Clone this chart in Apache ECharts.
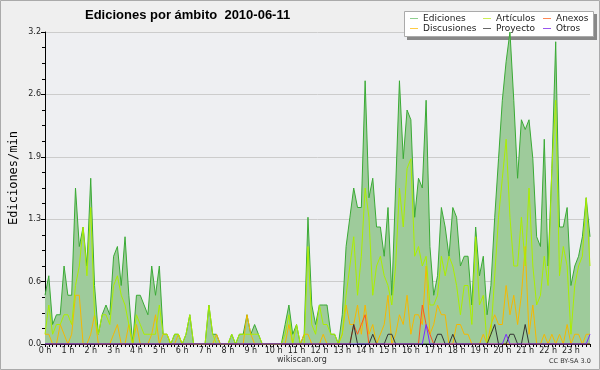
<!DOCTYPE html>
<html><head><meta charset="utf-8">
<script src="https://cdn.jsdelivr.net/npm/echarts@6/dist/echarts.min.js"></script>
<style>html,body{margin:0;padding:0;background:#efefef}#c{width:600px;height:370px}</style>
</head><body><div id="c"></div>
<script>
var hourLabels = ['0 h','1 h','2 h','3 h','4 h','5 h','6 h','7 h','8 h','9 h','10 h','11 h','12 h','13 h','14 h','15 h','16 h','17 h','18 h','19 h','20 h','21 h','22 h','23 h'];
var ediciones = [0.5,0.7,0.2,0.3,0.3,0.8,0.5,0.5,1.6,1.0,1.2,0.8,1.7,0.6,0.1,0.3,0.4,0.3,0.9,1.0,0.6,1.1,0.5,0.0,
0.5,0.5,0.4,0.3,0.8,0.5,0.8,0.1,0.1,0.0,0.1,0.1,0.0,0.1,0.3,0.0,0.0,0.0,0.0,0.4,0.1,0.1,0.0,0.0,
0.0,0.1,0.0,0.1,0.1,0.3,0.1,0.2,0.1,0.0,0.0,0.0,0.0,0.0,0.0,0.2,0.4,0.1,0.2,0.0,0.1,1.3,0.4,0.2,
0.4,0.4,0.4,0.1,0.1,0.0,0.3,1.0,1.3,1.6,1.4,1.4,2.7,1.5,1.7,1.2,1.2,0.9,1.4,0.5,1.6,2.7,1.9,2.4,
2.3,1.3,1.7,1.6,2.5,1.0,0.5,0.7,1.4,1.2,0.9,1.4,1.3,0.8,0.9,0.9,0.4,1.2,0.7,0.9,0.3,0.6,1.3,1.9,
2.5,2.9,3.2,2.5,1.7,2.3,2.2,2.3,1.9,1.1,1.0,2.1,0.8,1.8,3.1,1.2,1.2,1.4,0.6,0.8,0.9,1.1,1.5,1.1];
var articulos = [0.1,0.4,0.1,0.2,0.2,0.3,0.3,0.2,0.6,0.8,1.2,0.7,1.4,0.3,0.1,0.3,0.3,0.2,0.6,0.7,0.5,0.4,0.2,0.0,
0.3,0.2,0.1,0.1,0.1,0.1,0.4,0.1,0.1,0.0,0.1,0.1,0.0,0.1,0.3,0.0,0.0,0.0,0.0,0.4,0.1,0.0,0.0,0.0,
0.0,0.1,0.0,0.1,0.1,0.1,0.1,0.1,0.1,0.0,0.0,0.0,0.0,0.0,0.0,0.1,0.3,0.0,0.2,0.0,0.0,1.0,0.2,0.1,
0.4,0.2,0.2,0.1,0.1,0.0,0.1,0.5,0.8,1.1,0.5,0.9,1.6,1.3,0.5,0.8,0.9,0.7,0.6,0.4,0.8,1.6,1.2,1.8,
1.9,0.9,1.0,0.8,0.9,0.4,0.4,0.5,0.9,0.7,0.9,0.8,0.6,0.3,0.6,0.6,0.2,1.1,0.4,0.5,0.0,0.1,0.7,1.3,
1.7,2.1,1.3,0.8,0.8,1.3,0.8,1.6,0.8,0.4,0.5,0.9,0.6,1.8,2.5,0.7,1.0,0.8,0.1,0.6,0.8,0.9,1.5,0.8];
var discusiones = [0.1,0.1,0,0,0.2,0.1,0,0.1,0.5,0.5,0,0,0.1,0.3,0,0,0,0,0.1,0.2,0,0,0.2,0,
0.2,0,0,0,0.1,0.3,0,0.1,0.1,0,0,0.1,0,0,0,0,0,0,0,0,0,0.1,0,0,
0,0,0,0,0,0.3,0.1,0,0,0,0,0,0,0,0,0,0.2,0,0,0,0.1,0.1,0,0,
0,0.1,0,0,0,0,0.1,0.4,0.2,0.2,0.4,0.1,0.4,0.1,0.2,0,0.1,0.2,0.5,0,0.1,0.3,0.2,0.5,
0.1,0.3,0.3,0.2,0.8,0.1,0.2,0.4,0.3,0.3,0,0,0.2,0.2,0.1,0.1,0,0,0,0.1,0,0.2,0.3,0.2,
0.2,0.6,0.3,0.5,0.2,0.5,1.0,0.1,0.4,0,0,0.1,0,0.1,0,0.1,0,0.2,0,0.1,0.1,0,0.1,0.1];
var anexos = [0,0,0,0,0,0,0,0,0,0,0,0,0,0,0,0,0,0,0,0,0,0,0,0,
0,0,0,0,0,0,0,0,0,0,0,0,0,0,0,0,0,0,0,0,0,0,0,0,
0,0,0,0,0,0,0,0,0,0,0,0,0,0,0,0,0,0,0,0,0,0,0,0,
0,0,0,0,0,0,0,0,0,0.2,0.1,0.2,0.3,0,0,0,0,0,0,0,0,0,0,0,
0,0,0,0.4,0.2,0.1,0,0,0,0,0,0,0,0,0,0,0,0,0,0,0,0,0,0,
0,0,0,0,0,0,0,0,0,0,0,0,0,0,0,0,0,0,0,0,0,0,0,0];
var proyecto = [0,0,0,0,0,0,0,0,0,0,0,0,0,0,0,0,0,0,0,0,0,0,0,0,
0,0,0,0,0,0,0,0,0,0,0,0,0,0,0,0,0,0,0,0,0,0,0,0,
0,0,0,0,0,0,0,0,0,0,0,0,0,0,0,0,0,0,0,0,0,0,0,0,
0,0,0,0,0,0,0,0,0,0.2,0,0,0,0,0.1,0,0,0,0.1,0.1,0,0,0,0,
0,0,0,0,0,0,0,0.1,0.1,0,0,0.1,0,0,0,0,0,0,0,0,0,0.1,0.2,0,
0,0,0.1,0.1,0,0,0.2,0,0,0,0,0,0,0,0,0,0,0,0,0,0,0,0,0];
var otros = [0,0,0,0,0,0,0,0,0,0,0,0,0,0,0,0,0,0,0,0,0,0,0,0,
0,0,0,0,0,0,0,0,0,0,0,0,0,0,0,0,0,0,0,0,0,0,0,0,
0,0,0,0,0,0,0,0,0,0,0,0,0,0,0,0,0,0,0,0,0,0,0,0,
0,0,0,0,0,0,0,0,0,0,0,0,0,0,0,0,0,0,0,0,0,0,0,0,
0,0,0,0,0.2,0,0,0,0,0,0,0,0,0,0,0,0,0,0,0,0,0,0,0,
0,0.1,0,0,0,0,0,0,0,0,0,0,0,0,0,0,0,0,0,0,0,0,0,0.1];

var times = [];
for (var i = 0; i < ediciones.length; i++) {
  var h = Math.floor(i / 6), m = (i % 6) * 10;
  times.push((h < 10 ? '0' : '') + h + ':' + (m < 10 ? '0' : '') + m);
}

var chart = echarts.init(document.getElementById('c'), null, {renderer: 'canvas'});
var FONT = 'DejaVu Sans';
function leg(name, color, left, top) {
  return {
    left: left, top: top, padding: 0, selectedMode: false, z: 20,
    icon: 'rect', itemWidth: 8, itemHeight: 1,
    data: [{name: name, itemStyle: {color: color}}],
    textStyle: {fontFamily: FONT, fontSize: 9, color: '#222'}
  };
}
function lineSeries(name, data, color, z) {
  return {name: name, type: 'line', data: data, showSymbol: false, symbol: 'none',
    lineStyle: {color: color, width: 1}, itemStyle: {color: color}, z: z, animation: false};
}
var option = {
  backgroundColor: '#efefef',
  animation: false,
  title: {
    text: 'Ediciones por ámbito  2010-06-11', left: 80, top: 4,
    textStyle: {fontFamily: 'Liberation Sans', fontWeight: 'bold', fontSize: 13, color: '#000'}
  },
  legend: [
    leg('Ediciones', '#8fcf8f', 410, 14),
    leg('Artículos', '#ccee55', 483, 14),
    leg('Anexos', '#ff8855', 543, 14),
    leg('Discusiones', '#ffcc44', 410, 24),
    leg('Proyecto', '#666666', 483, 24),
    leg('Otros', '#9955ee', 543, 24)
  ],
  grid: {left: 45, right: 10, top: 32, bottom: 26, show: true, backgroundColor: '#eeeff2', borderWidth: 0},
  xAxis: {
    type: 'category', data: times, boundaryGap: false,
    axisLine: {lineStyle: {color: '#000', width: 1}},
    axisTick: {show: true, interval: 0, length: 3, lineStyle: {color: '#000'}},
    axisLabel: {interval: 5, margin: 3, fontFamily: FONT, fontSize: 8, color: '#222',
      formatter: function (v, idx) { return hourLabels[idx / 6]; }},
    splitLine: {show: false}
  },
  yAxis: {
    type: 'value', min: 0, max: 3.2, interval: 0.64,
    axisLine: {show: true, lineStyle: {color: '#000', width: 1}},
    axisTick: {show: true, length: 4, lineStyle: {color: '#000'}},
    minorTick: {show: true, splitNumber: 4, length: 3, lineStyle: {color: '#000'}},
    axisLabel: {margin: 4, fontFamily: FONT, fontSize: 8, color: '#222',
      formatter: function (v) { return v.toFixed(1); }},
    splitLine: {show: true, lineStyle: {color: '#cccccc', width: 1}}
  },
  graphic: [
    {type: 'rect', shape: {x: 0.5, y: 0.5, width: 599, height: 369}, style: {fill: null, stroke: '#aaaaaa', lineWidth: 1}, z: 100},
    {type: 'rect', shape: {x: 407, y: 14, width: 190, height: 26}, style: {fill: '#888888'}, z: 1},
    {type: 'rect', shape: {x: 404.5, y: 11.5, width: 189, height: 25}, style: {fill: '#ffffff', stroke: '#aaaaaa', lineWidth: 1}, z: 2},
    {type: 'text', x: 14, y: 178, rotation: Math.PI / 2,
      style: {text: 'Ediciones/min', fontFamily: 'DejaVu Sans Mono', fontSize: 12, fill: '#000', align: 'center', verticalAlign: 'middle'}, z: 10},
    {type: 'text', left: 277, top: 356, style: {text: 'wikiscan.org', fontFamily: FONT, fontSize: 8, fill: '#333'}, z: 10},
    {type: 'text', left: 549, top: 358, style: {text: 'CC BY-SA 3.0', fontFamily: FONT, fontSize: 6.5, fill: '#333'}, z: 10}
  ],
  series: [
    {name: 'Ediciones', type: 'line', data: ediciones, showSymbol: false, symbol: 'none',
      lineStyle: {color: '#3aaa35', width: 1}, itemStyle: {color: '#3aaa35'},
      areaStyle: {color: '#9ecb9b', opacity: 1}, z: 2},
    lineSeries('Discusiones', discusiones, '#f5b800', 3),
    lineSeries('Artículos', articulos, '#aaee00', 4),
    lineSeries('Anexos', anexos, '#ff5a1a', 5),
    lineSeries('Proyecto', proyecto, '#333333', 6),
    lineSeries('Otros', otros, '#7a2cff', 7)
  ]
};
chart.setOption(option);
</script></body></html>
